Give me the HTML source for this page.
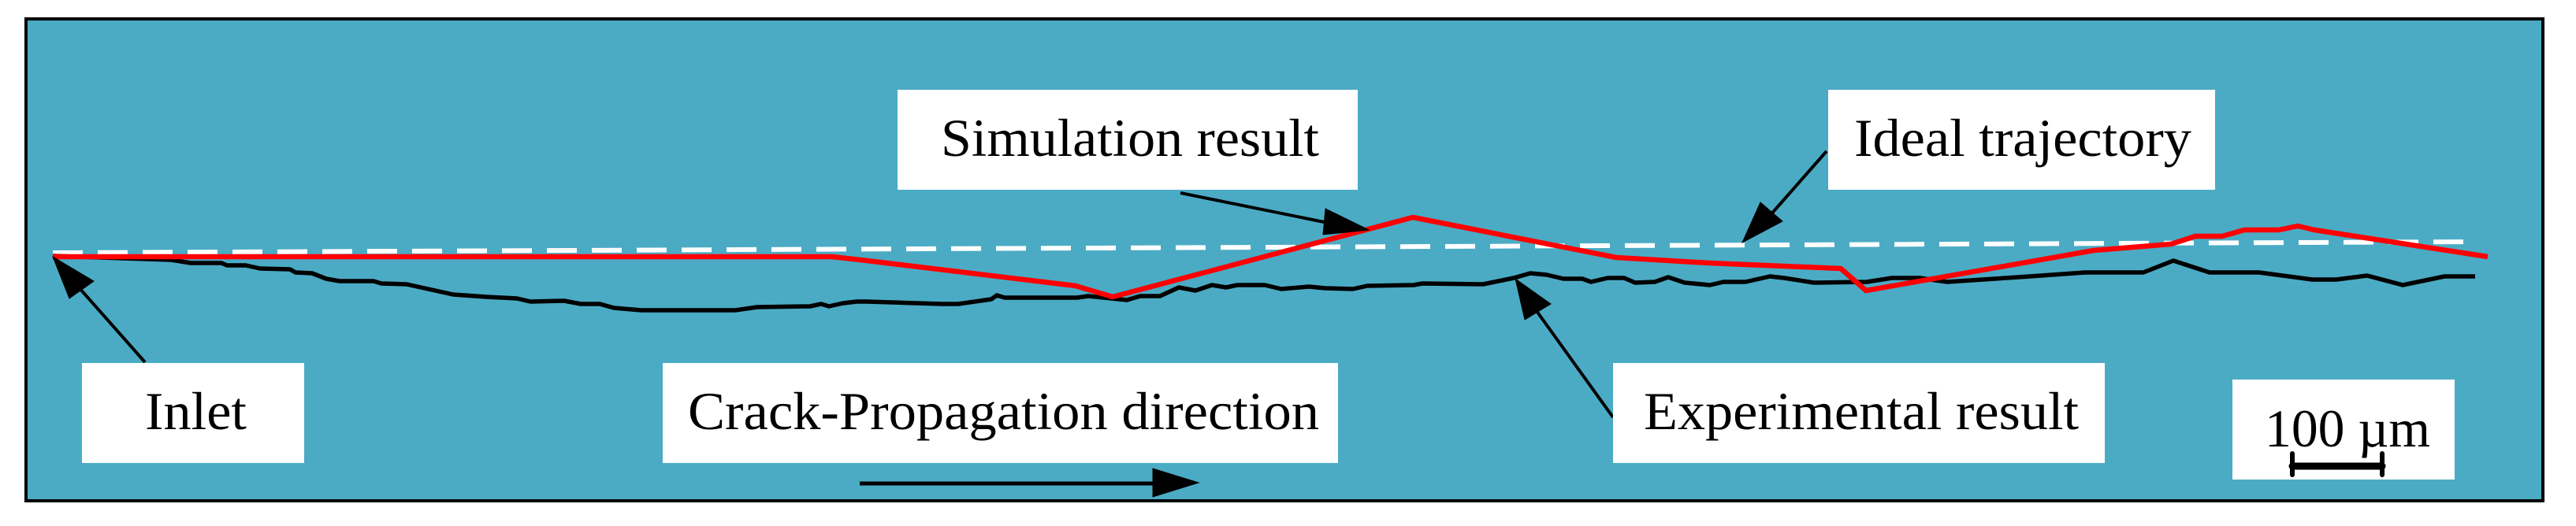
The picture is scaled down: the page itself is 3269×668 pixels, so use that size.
<!DOCTYPE html>
<html><head><meta charset="utf-8"><style>html,body{margin:0;padding:0;background:#fff}svg{display:block}</style></head><body>
<svg width="3269" height="668" viewBox="0 0 3269 668" xmlns="http://www.w3.org/2000/svg">
<rect x="0" y="0" width="3269" height="668" fill="#fff"/>
<rect x="33" y="24" width="3194" height="612" fill="#4babc4" stroke="#000" stroke-width="4"/>
<line x1="67" y1="321" x2="3141" y2="307" stroke="#fff" stroke-width="6" stroke-dasharray="38 19"/>
<polyline fill="none" stroke="#000" stroke-width="5.5" stroke-linejoin="round" points="67,325 217,330 242,334 281,334 288,337 312,337 330,341 368,342 375,346 396,347 414,354 431,357 474,357 484,360 516,361 575,374 617,377 656,379 673,383 716,382 737,386 761,386 779,391 814,394 933,394 961,390 1028,389 1042,386 1052,389 1070,385 1087,383 1100,383 1195,386 1216,386 1258,380 1265,375 1275,378 1367,378 1381,376 1430,381 1447,376 1472,376 1496,365 1517,369 1538,362 1556,365 1570,362 1605,362 1626,367 1661,364 1682,366 1717,367 1735,363 1794,362 1805,360 1882,361 1921,353 1942,347 1963,349 1984,354 2008,354 2019,358 2040,353 2061,353 2075,359 2100,358 2117,352 2138,359 2170,362 2187,358 2215,358 2246,351 2264,353 2302,359 2369,358 2401,353 2436,353 2471,358 2576,351 2646,346 2720,346 2758,331 2804,346 2867,346 2934,355 2965,355 3004,350 3049,362 3102,351 3141,351"/>
<polyline fill="none" stroke="#ff0000" stroke-width="6.5" stroke-linejoin="round" points="67,326 1056,326 1100,331 1365,363 1412,377 1793,276 2051,327 2169,334 2336,341 2368,369 2657,318 2755,310 2786,300 2820,300 2848,292 2892,292 2916,287 2937,292 3157,326"/>
<g stroke="#000" stroke-width="4" fill="#000">
<line x1="184" y1="460" x2="100" y2="365"/>
<polygon points="67,326 88,379 119,357" stroke-width="1"/>
<line x1="1498" y1="245" x2="1695" y2="285"/>
<polygon points="1737,292 1682,265 1679,298" stroke-width="1"/>
<line x1="2318" y1="192" x2="2245" y2="275"/>
<polygon points="2211,308 2234,257 2262,281" stroke-width="1"/>
<line x1="2047" y1="530" x2="1950" y2="395"/>
<polygon points="1923,354 1935,406 1968,386" stroke-width="1"/>
<line x1="1091" y1="614" x2="1470" y2="614" stroke-width="5"/>
<polygon points="1521,613 1463,595 1463,631" stroke-width="1"/>
</g>
<g fill="#fff">
<rect x="104" y="461" width="282" height="127"/>
<rect x="841" y="461" width="857" height="127"/>
<rect x="1139" y="114" width="584" height="127"/>
<rect x="2047" y="461" width="624" height="127"/>
<rect x="2320" y="114" width="491" height="127"/>
<rect x="2833" y="482" width="282" height="127"/>
</g>
<g font-family="'Liberation Serif', serif" font-size="68" fill="#000">
<text x="184" y="545" textLength="129" lengthAdjust="spacingAndGlyphs">Inlet</text>
<text x="873" y="545" textLength="801" lengthAdjust="spacingAndGlyphs">Crack-Propagation direction</text>
<text x="1194" y="198" textLength="480" lengthAdjust="spacingAndGlyphs">Simulation result</text>
<text x="2086" y="545" textLength="552" lengthAdjust="spacingAndGlyphs">Experimental result</text>
<text x="2353" y="198" textLength="428" lengthAdjust="spacingAndGlyphs">Ideal trajectory</text>
<text x="2874" y="567" textLength="210" lengthAdjust="spacingAndGlyphs">100 µm</text>
</g>
<g stroke="#000" stroke-linecap="round">
<line x1="2909" y1="592" x2="3023" y2="592" stroke-width="9"/>
<line x1="2909" y1="576" x2="2909" y2="603" stroke-width="6"/>
<line x1="3023" y1="576" x2="3023" y2="603" stroke-width="6"/>
</g>
</svg>
</body></html>
